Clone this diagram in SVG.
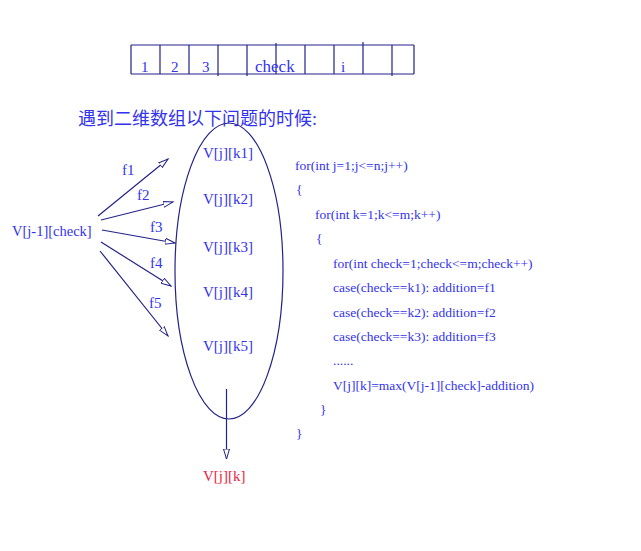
<svg xmlns="http://www.w3.org/2000/svg" width="641" height="551" viewBox="0 0 641 551">
<defs>
<style>
.t{font-family:"Liberation Serif","Noto Sans CJK SC",serif;fill:#3333ee;}
.c{font-size:13.5px;}
.n{font-size:15px;}
.ln{stroke:#22228a;stroke-width:1.2;fill:none;}
</style>
<marker id="ah" markerWidth="12" markerHeight="10" refX="10" refY="4" orient="auto" markerUnits="userSpaceOnUse">
<path d="M0,1 L10,4 L0,7 Z" fill="#fff" stroke="#22228a" stroke-width="1"/>
</marker>
</defs>
<rect width="641" height="551" fill="#fff"/>
<g id="table">
<path class="ln" d="M131,45 H414 M131,74 H414 M131,45 V74 M160,45 V74 M189,45 V74 M218,45 V76 M247,45 V76 M276,43 V74 M305,45 V74 M334,45 V74 M363,42 V74 M392,45 V76 M414,45 V74"/>
<text class="t n" x="141" y="72">1</text>
<text class="t n" x="171" y="72">2</text>
<text class="t n" x="202" y="72">3</text>
<text class="t" x="255" y="72" font-size="17">check</text>
<text class="t n" x="341" y="72">i</text>
</g>
<g id="title"><text class="t" x="78" y="125" font-size="18">遇到二维数组以下问题的时候:</text></g>
<g id="source"><text class="t" x="12" y="236" font-size="14.5">V[j-1][check]</text></g>
<g id="set">
<ellipse class="ln" cx="229" cy="271" rx="54" ry="148"/>
<text class="t n" x="203" y="158">V[j][k1]</text>
<text class="t n" x="203" y="204">V[j][k2]</text>
<text class="t n" x="203" y="252">V[j][k3]</text>
<text class="t n" x="203" y="297">V[j][k4]</text>
<text class="t n" x="203" y="351">V[j][k5]</text>
</g>
<g id="result"><text class="t n" x="203" y="481" style="fill:#ee2244">V[j][k]</text></g>
<g id="connectors">
<line class="ln" x1="98" y1="216" x2="168" y2="159" marker-end="url(#ah)"/>
<line class="ln" x1="101" y1="220" x2="173" y2="202" marker-end="url(#ah)"/>
<line class="ln" x1="102" y1="230" x2="175" y2="243" marker-end="url(#ah)"/>
<line class="ln" x1="101" y1="242" x2="171" y2="286" marker-end="url(#ah)"/>
<line class="ln" x1="100" y1="251" x2="168" y2="336" marker-end="url(#ah)"/>
<line class="ln" x1="226.5" y1="389" x2="226.5" y2="459" marker-end="url(#ah)"/>
<text class="t n" x="122" y="175">f1</text>
<text class="t n" x="137" y="200">f2</text>
<text class="t n" x="150" y="232">f3</text>
<text class="t n" x="150" y="268">f4</text>
<text class="t n" x="149" y="308">f5</text>
</g>
<g id="code">
<text class="t c" x="295" y="170">for(int j=1;j&lt;=n;j++)</text>
<text class="t c" x="296" y="194">{</text>
<text class="t c" x="315" y="219">for(int k=1;k&lt;=m;k++)</text>
<text class="t c" x="316" y="243">{</text>
<text class="t c" x="333" y="268">for(int check=1;check&lt;=m;check++)</text>
<text class="t c" x="333" y="292">case(check==k1): addition=f1</text>
<text class="t c" x="333" y="317">case(check==k2): addition=f2</text>
<text class="t c" x="333" y="341">case(check==k3): addition=f3</text>
<text class="t c" x="333" y="365">......</text>
<text class="t c" x="333" y="390">V[j][k]=max(V[j-1][check]-addition)</text>
<text class="t c" x="320" y="414">}</text>
<text class="t c" x="296" y="438">}</text>
</g>
</svg>
